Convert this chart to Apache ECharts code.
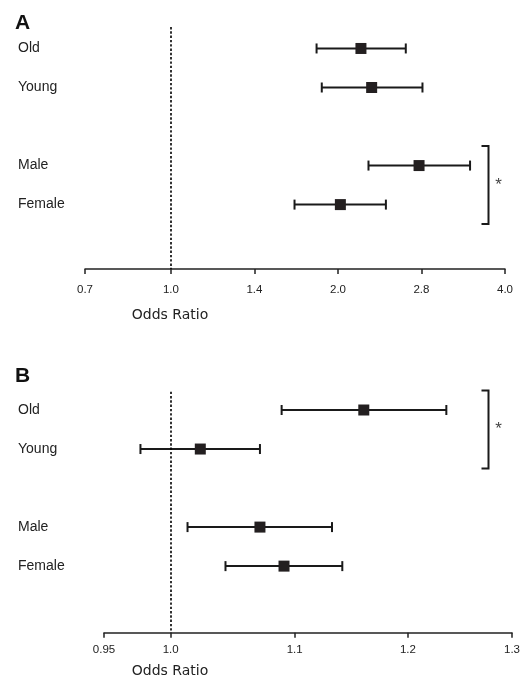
<!DOCTYPE html>
<html>
<head>
<meta charset="utf-8">
<script src="https://cdn.jsdelivr.net/npm/echarts@6/dist/echarts.min.js"></script>
<style>html,body{margin:0;padding:0;background:#fff}#c{width:523px;height:680px}</style>
</head>
<body>
<div id="c"></div>
<script>
// ---- data ----
const rows = ['Old', 'Young', 'Male', 'Female'];
const rowPos = [1, 2, 4, 5];

const orA = [2.20, 2.30, 2.80, 2.02];
const loA = [1.83, 1.87, 2.27, 1.67];
const hiA = [2.65, 2.84, 3.46, 2.44];
const ticksA = [0.7, 1.0, 1.414, 2.0, 2.828, 4.0];
const tickLabelsA = ['0.7', '1.0', '1.4', '2.0', '2.8', '4.0'];
const sigA = ['Male', 'Female'];

const orB = [1.160, 1.023, 1.071, 1.091];
const loB = [1.089, 0.977, 1.013, 1.043];
const hiB = [1.236, 1.071, 1.132, 1.141];
const ticksB = [0.95, 1.0, 1.1, 1.2, 1.3];
const tickLabelsB = ['0.95', '1.0', '1.1', '1.2', '1.3'];
const sigB = ['Old', 'Young'];

// ---- chart ----
const INK = '#222';
const FONT = '"Liberation Sans", Arial, sans-serif';
const chart = echarts.init(document.getElementById('c'));

function whiskerRender(params, api) {
  const y = api.value(2);
  const a = api.coord([api.value(0), y]);
  const b = api.coord([api.value(1), y]);
  const h = 5;
  const st = { stroke: '#1a1a1a', lineWidth: 2 };
  return { type: 'group', children: [
    { type: 'line', shape: { x1: a[0], y1: a[1], x2: b[0], y2: b[1] }, style: st },
    { type: 'line', shape: { x1: a[0], y1: a[1] - h, x2: a[0], y2: a[1] + h }, style: st },
    { type: 'line', shape: { x1: b[0], y1: b[1] - h, x2: b[0], y2: b[1] + h }, style: st }
  ]};
}
function bracketRender(params, api) {
  const y0 = api.coord([1, api.value(0)])[1];
  const y1 = api.coord([1, api.value(1)])[1];
  const x = 488.5, t = 7;
  return { type: 'group', children: [
    { type: 'polyline', shape: { points: [[x - t, y0], [x, y0], [x, y1], [x - t, y1]] },
      style: { stroke: '#1a1a1a', lineWidth: 2, fill: null } },
    { type: 'text', x: x + 10, y: (y0 + y1) / 2,
      style: { text: '*', fill: '#444', font: '17px ' + FONT, align: 'center', verticalAlign: 'middle' } }
  ]};
}
function posOf(name) { return rowPos[rows.indexOf(name)]; }

function panel(idx, or, lo, hi, sig) {
  const whisk = rows.map((r, i) => [lo[i], hi[i], rowPos[i]]);
  const pts = rows.map((r, i) => [or[i], rowPos[i]]);
  return [
    { type: 'custom', xAxisIndex: idx, yAxisIndex: idx, renderItem: whiskerRender, data: whisk, silent: true, z: 2 },
    { type: 'scatter', xAxisIndex: idx, yAxisIndex: idx, data: pts, symbol: 'rect', symbolSize: 11,
      itemStyle: { color: '#231f20', opacity: 1 }, z: 3, silent: true,
      markLine: { silent: true, symbol: 'none', label: { show: false },
        lineStyle: { color: '#000', type: [2.4, 1.9], width: 1.6, opacity: 1 },
        data: [{ xAxis: 1.0 }] } },
    { type: 'custom', xAxisIndex: idx, yAxisIndex: idx, renderItem: bracketRender,
      data: [[posOf(sig[0]) - 0.5, posOf(sig[1]) + 0.5]], silent: true }
  ];
}

function xAxisCfg(idx, min, max, ticks, tickLabels, labelMargin, gap, padRight) {
  return {
    gridIndex: idx, type: 'log', logBase: Math.E, min: min, max: max,
    axisLine: { lineStyle: { color: INK, width: 1.5 } },
    axisTick: { show: true, length: 5, customValues: ticks, lineStyle: { color: INK, width: 1.5 } },
    axisLabel: { customValues: ticks, color: INK, fontSize: 11.5, fontFamily: FONT, margin: labelMargin,
      formatter: v => { let best = 0; ticks.forEach((t, i) => { if (Math.abs(t - v) < Math.abs(ticks[best] - v)) best = i; }); return tickLabels[best]; } },
    splitLine: { show: false },
    name: 'Odds Ratio', nameLocation: 'middle', nameGap: gap,
    nameTextStyle: { fontFamily: '"DejaVu Sans", sans-serif', fontSize: 14, color: INK,
      padding: [0, padRight, 0, 0] }
  };
}
function yAxisCfg(idx, min, max, margin) {
  return {
    gridIndex: idx, type: 'value', inverse: true, min: min, max: max,
    axisLine: { show: false }, axisTick: { show: false }, splitLine: { show: false },
    axisLabel: { customValues: rowPos, align: 'left', margin: margin, color: INK, fontSize: 14, fontFamily: FONT,
      formatter: v => rows[rowPos.indexOf(Math.round(v))] || '' }
  };
}

chart.setOption({
  animation: false,
  backgroundColor: '#fff',
  title: [
    { text: 'A', left: 10, top: 8, textStyle: { fontSize: 21, fontWeight: 'bold', color: '#111', fontFamily: FONT } },
    { text: 'B', left: 10, top: 361, textStyle: { fontSize: 21, fontWeight: 'bold', color: '#111', fontFamily: FONT } }
  ],
  grid: [
    { left: 85, right: 18, top: 27, height: 242 },
    { left: 104, right: 9.7, top: 391.7, height: 241 }
  ],
  xAxis: [
    xAxisCfg(0, 0.7, 4.0, ticksA, tickLabelsA, 15, 39, 250),
    xAxisCfg(1, 0.95, 1.3, ticksB, tickLabelsB, 11, 32, 276)
  ],
  yAxis: [
    yAxisCfg(0, 0.45, 6.65, 67),
    yAxisCfg(1, 0.531, 6.706, 86)
  ],
  series: [].concat(
    panel(0, orA, loA, hiA, sigA),
    panel(1, orB, loB, hiB, sigB)
  )
});
</script>
</body>
</html>
